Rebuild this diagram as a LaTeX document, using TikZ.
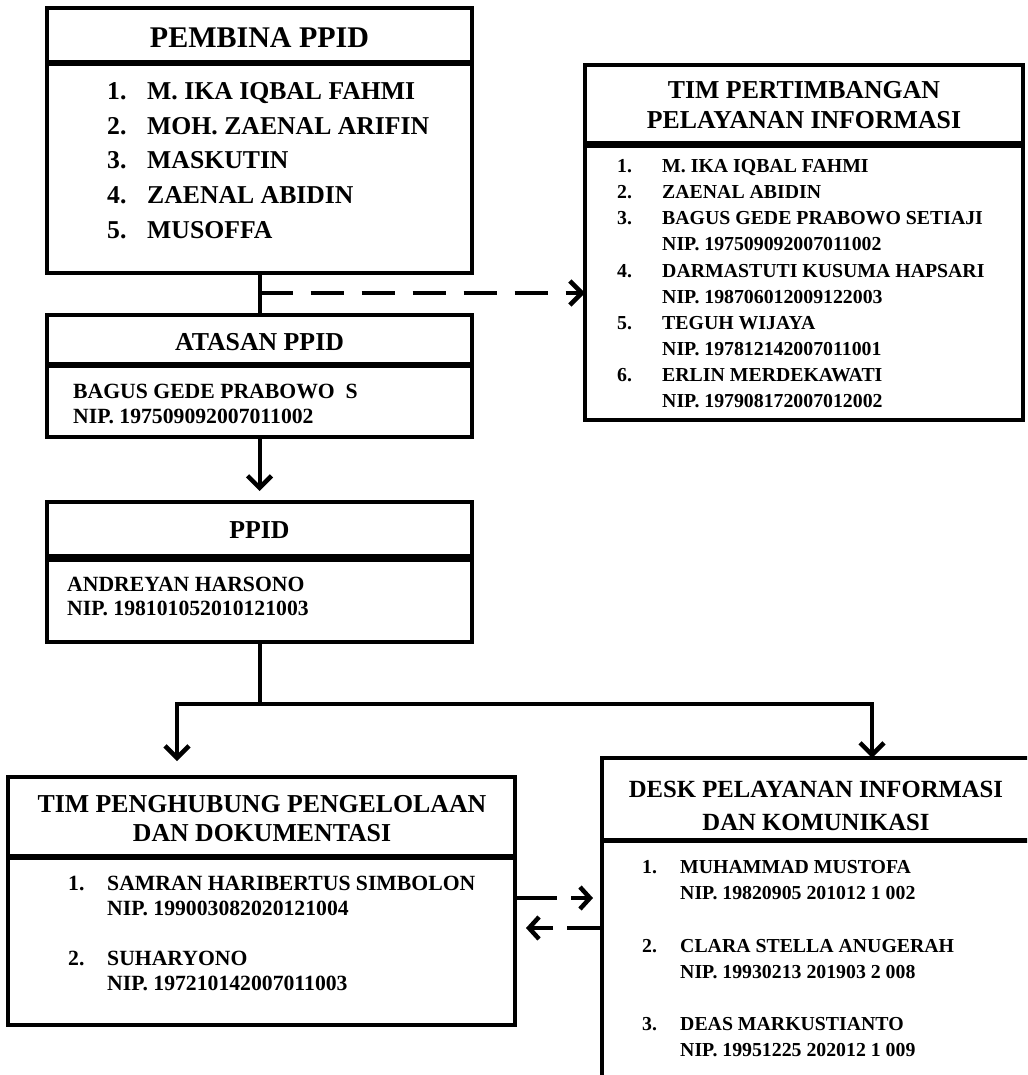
\documentclass[tikz,border=0pt]{standalone}
\usepackage{fontspec}
\setmainfont{Liberation Serif}
\usetikzlibrary{arrows.meta}
\begin{document}
\begin{tikzpicture}[x=1pt,y=-1pt,
  box/.style={draw=black,line width=4.5pt,rectangle,inner sep=0pt,outer sep=0pt,anchor=north west},
  divider/.style={line width=6pt},
  conn/.style={line width=4pt,line join=miter},
  tipA/.style={-{Straight Barb[length=12pt,width=24pt,line width=4.5pt,line join=miter]}},
  tipB/.style={-{Straight Barb[length=10pt,width=22pt,line width=4.5pt,line join=miter]}},
  ttl/.style={inner sep=0pt,anchor=base,font=\bfseries\fontsize{25.8}{30}\selectfont},
  big/.style={inner sep=0pt,anchor=base west,font=\bfseries\fontsize{25.7}{30}\selectfont},
  mid/.style={inner sep=0pt,anchor=base west,font=\bfseries\fontsize{21.7}{26}\selectfont},
  sml/.style={inner sep=0pt,anchor=base west,font=\bfseries\fontsize{19.8}{24}\selectfont},
]
\fill[white] (0,0) rectangle (1027,1075);
\useasboundingbox (0,0) rectangle (1027,1075);
\clip (0,0) rectangle (1027,1075);

% ---------- boxes ----------
\node[box,minimum width=425pt,minimum height=265pt] (pb) at (47,8) {};
\node[box,minimum width=438pt,minimum height=355pt] (tpp) at (585,65) {};
\node[box,minimum width=425pt,minimum height=122pt] (at) at (47,315) {};
\node[box,minimum width=425pt,minimum height=140pt] (pp) at (47,502) {};
\node[box,minimum width=507pt,minimum height=248pt] (tim) at (8,777) {};
\node[box,minimum width=428pt,minimum height=330pt] (desk) at (602,758) {};

% ---------- dividers ----------
\draw[divider] (pb.west |- 0,63) -- (pb.east |- 0,63);
\draw[divider,line width=7pt] (tpp.west |- 0,145) -- (tpp.east |- 0,145);
\draw[divider] (at.west |- 0,365) -- (at.east |- 0,365);
\draw[divider,line width=7.5pt] (pp.west |- 0,558) -- (pp.east |- 0,558);
\draw[divider] (tim.west |- 0,857) -- (tim.east |- 0,857);
\draw[divider,line width=5pt] (desk.west |- 0,840) -- (desk.east |- 0,840);

% ---------- connectors ----------
\coordinate (j1) at (259.5,293);
\draw[conn] (pb.south) -- (at.north);
\draw[conn,tipA,dash pattern=on 33pt off 18pt] (j1) -- (tpp.west |- j1);
\draw[conn,tipA,shorten >=11pt] (at.south) -- (pp.north);

\coordinate (split) at (259.5,704);
\coordinate (lb) at (177,704);
\coordinate (rb) at (872,704);
\draw[conn] (pp.south) -- (split);
\draw[conn,tipA,shorten >=16pt] (split) -- (lb) -- (tim.north -| lb);
\draw[conn,tipA] (split) -- (rb) -- (desk.north -| rb);

\coordinate (ra) at (515,898);
\coordinate (la) at (515,928);
\draw[conn,tipB,dash pattern=on 42pt off 14pt on 60pt,shorten >=9pt] (tim.east |- ra) -- (desk.west |- ra);
\draw[conn,tipB,dash pattern=on 35pt off 14pt on 60pt,shorten >=11pt] (desk.west |- la) -- (tim.east |- la);

% ---------- PEMBINA PPID ----------
\node[ttl,font=\bfseries\fontsize{30}{34}\selectfont] (pbt) at (259.5,48) {PEMBINA PPID};
\node[big] (pb1n) at (107,100) {1.};   \node[big] (pb1) at (147,100) {M. IKA IQBAL FAHMI};
\node[big] (pb2n) at (107,134.5) {2.}; \node[big] (pb2) at (147,134.5) {MOH. ZAENAL ARIFIN};
\node[big] (pb3n) at (107,169) {3.};   \node[big] (pb3) at (147,169) {MASKUTIN};
\node[big] (pb4n) at (107,203.5) {4.}; \node[big] (pb4) at (147,203.5) {ZAENAL ABIDIN};
\node[big] (pb5n) at (107,238) {5.};   \node[big] (pb5) at (147,238) {MUSOFFA};

% ---------- TIM PERTIMBANGAN ----------
\node[ttl] (tppt1) at (804,99) {TIM PERTIMBANGAN};
\node[ttl] (tppt2) at (804,129) {PELAYANAN INFORMASI};
\node[sml] (tp1n) at (617,173) {1.}; \node[sml] (tp1) at (662,173) {M. IKA IQBAL FAHMI};
\node[sml] (tp2n) at (617,199) {2.}; \node[sml] (tp2) at (662,199) {ZAENAL ABIDIN};
\node[sml] (tp3n) at (617,225) {3.}; \node[sml] (tp3) at (662,225) {BAGUS GEDE PRABOWO SETIAJI};
\node[sml] (tp3b) at (662,251) {NIP. 197509092007011002};
\node[sml] (tp4n) at (617,277) {4.}; \node[sml] (tp4) at (662,277) {DARMASTUTI KUSUMA HAPSARI};
\node[sml] (tp4b) at (662,303) {NIP. 198706012009122003};
\node[sml] (tp5n) at (617,329) {5.}; \node[sml] (tp5) at (662,329) {TEGUH WIJAYA};
\node[sml] (tp5b) at (662,355) {NIP. 197812142007011001};
\node[sml] (tp6n) at (617,381) {6.}; \node[sml] (tp6) at (662,381) {ERLIN MERDEKAWATI};
\node[sml] (tp6b) at (662,407) {NIP. 197908172007012002};

% ---------- ATASAN PPID ----------
\node[ttl] (att) at (259.5,350) {ATASAN PPID};
\node[mid] (at1) at (73,398) {BAGUS GEDE PRABOWO \ S};
\node[mid] (at2) at (73,423) {NIP. 197509092007011002};

% ---------- PPID ----------
\node[ttl] (ppt) at (259.5,538) {PPID};
\node[mid] (pp1) at (67,591) {ANDREYAN HARSONO};
\node[mid] (pp2) at (67,615) {NIP. 198101052010121003};

% ---------- TIM PENGHUBUNG ----------
\node[ttl] (timt1) at (262,812) {TIM PENGHUBUNG PENGELOLAAN};
\node[ttl] (timt2) at (262,841) {DAN DOKUMENTASI};
\node[mid] (tim1n) at (68,890) {1.}; \node[mid] (tim1) at (107,890) {SAMRAN HARIBERTUS SIMBOLON};
\node[mid] (tim1b) at (107,915) {NIP. 199003082020121004};
\node[mid] (tim2n) at (68,965) {2.}; \node[mid] (tim2) at (107,965) {SUHARYONO};
\node[mid] (tim2b) at (107,990) {NIP. 197210142007011003};

% ---------- DESK ----------
\node[ttl,font=\bfseries\fontsize{24.7}{29}\selectfont] (deskt1) at (816,797) {DESK PELAYANAN INFORMASI};
\node[ttl,font=\bfseries\fontsize{24.7}{29}\selectfont] (deskt2) at (816,830) {DAN KOMUNIKASI};
\node[sml] (dk1n) at (642,873) {1.}; \node[sml] (dk1) at (680,873) {MUHAMMAD MUSTOFA};
\node[sml] (dk1b) at (680,899) {NIP. 19820905 201012 1 002};
\node[sml] (dk2n) at (642,952) {2.}; \node[sml] (dk2) at (680,952) {CLARA STELLA ANUGERAH};
\node[sml] (dk2b) at (680,978) {NIP. 19930213 201903 2 008};
\node[sml] (dk3n) at (642,1030) {3.}; \node[sml] (dk3) at (680,1030) {DEAS MARKUSTIANTO};
\node[sml] (dk3b) at (680,1056) {NIP. 19951225 202012 1 009};
\end{tikzpicture}
\end{document}
